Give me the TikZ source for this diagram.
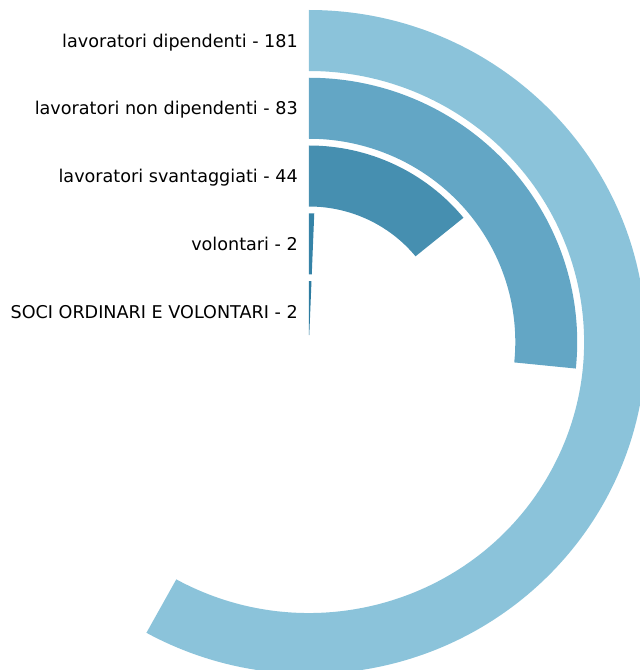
\documentclass[tikz,border=0pt]{standalone}
\usepackage{fontspec}
\usepackage{tikz}
\setmainfont{DejaVu Sans}
\definecolor{rblue}{HTML}{8BC3DA}
\definecolor{sblue}{HTML}{63A6C5}
\definecolor{tblue}{HTML}{468FB0}
\definecolor{ublue}{HTML}{3583A7}
\definecolor{vblue}{HTML}{2D7CA1}
\tikzset{lbl/.style = {anchor=base east, inner sep=0, font=\fontsize{17.6}{20}\selectfont}}
% annular sector: #1 colour, #2 outer, #3 inner, #4 value (out of 312)
\newcommand{\ringbar}[4]{%
  \pgfmathsetmacro{\endang}{90-#4/312*360}
  \fill [#1] (90:#2) arc [start angle=90, end angle=\endang, radius=#2]
             -- (\endang:#3) arc [start angle=\endang, end angle=90, radius=#3]
             -- cycle;}

\begin{document}
\begin{tikzpicture}[x=1.015pt, y=1pt]
          \clip (-309pt, -328pt) rectangle (331pt, 342pt);
          \ringbar{rblue}{332}{271}{181}
          \ringbar{sblue}{264.25}{203.25}{83}
          \ringbar{tblue}{196.5}{135.5}{44}
          \ringbar{ublue}{128.75}{67.75}{2}
          \ringbar{vblue}{61}{7}{2}

          \node [lbl] (dip) at (-11pt, 294.7pt) {lavoratori dipendenti - 181};
          \node [lbl] (nondip) at (-11pt, 227.7pt) {lavoratori non dipendenti - 83};
          \node [lbl] (svant) at (-11pt, 159.3pt) {lavoratori svantaggiati - 44};
          \node [lbl] (vol) at (-11pt, 91.3pt) {volontari - 2};
          \node [lbl] (soci) at (-11pt, 23.7pt) {SOCI ORDINARI E VOLONTARI - 2};
        \end{tikzpicture}
\end{document}
